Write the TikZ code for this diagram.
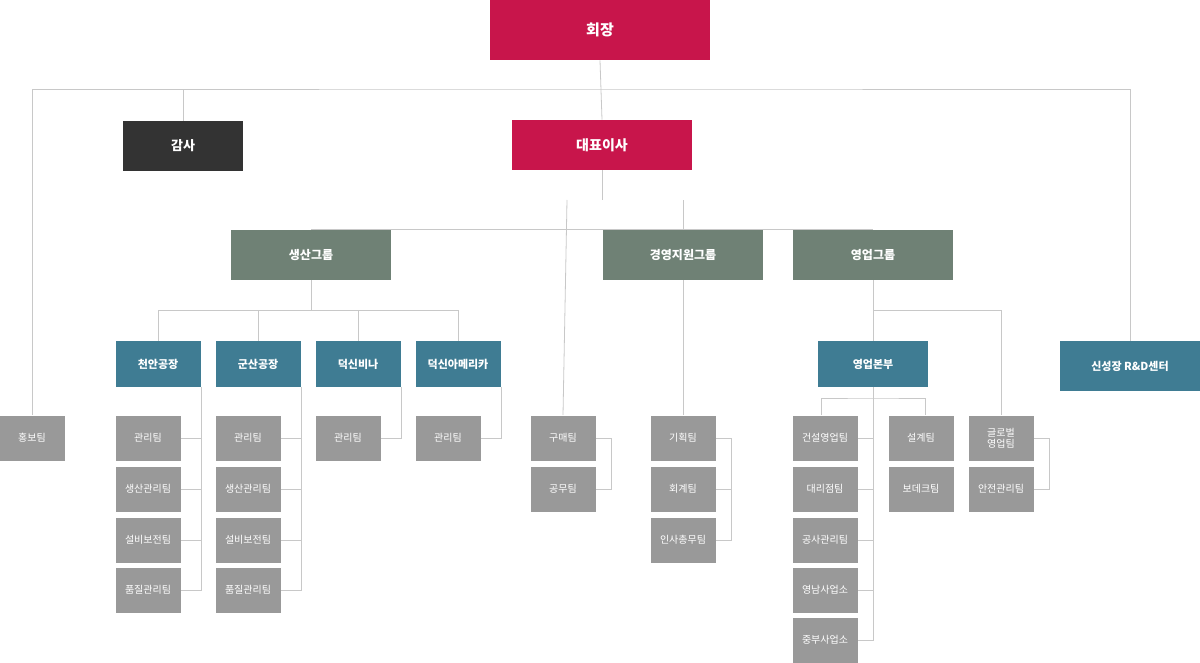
\documentclass[tikz,border=0pt]{standalone}
\usepackage{fontspec}
\setmainfont{Noto Sans CJK KR}
\usetikzlibrary{positioning}
\definecolor{crimson}{HTML}{C8154B}
\definecolor{darkbox}{HTML}{333333}
\definecolor{groupgrey}{HTML}{6F8175}
\definecolor{teal}{HTML}{3F7C93}
\definecolor{teamgrey}{HTML}{999999}
\definecolor{linegrey}{HTML}{C8C8C8}

\begin{document}
\begin{tikzpicture}[
	x = 1pt, y = -1pt,
	line width = 0.8pt,
	every node/.style = {text = white, inner sep = 0pt, align = center},
	chair/.style = {fill = crimson, minimum width = 220pt, minimum height = 60pt, font = \fontsize{15}{17}\selectfont\bfseries},
	ceo/.style = {fill = crimson, minimum width = 180pt, minimum height = 50pt, font = \fontsize{14}{16}\selectfont\bfseries},
	group/.style = {fill = groupgrey, minimum width = 160pt, minimum height = 50pt, font = \fontsize{12}{14}\selectfont\bfseries},
	plant/.style = {fill = teal, minimum width = 85pt, minimum height = 46pt, font = \fontsize{11}{13}\selectfont\bfseries},
	team/.style = {fill = teamgrey, minimum width = 65pt, minimum height = 45pt, font = \fontsize{10}{12}\selectfont},
	conn/.style = {draw = linegrey}
	]

	\useasboundingbox (0,0) rectangle (1200,663);

	% top
	\node[chair] (chair) at (600,30) {회장};
	\node[fill = darkbox, minimum width = 120pt, minimum height = 50pt, font = \fontsize{13}{15}\selectfont\bfseries] (audit) at (183,146) {감사};
	\node[ceo] (ceo) at (602,145) {대표이사};
	\node[plant, minimum width = 140pt, minimum height = 50pt] (rnd) at (1130,366) {신성장 R\&D센터};
	\node[team] (pr) at (32,438) {홍보팀};

	% groups
	\node[group] (prod) at (311,255) {생산그룹};
	\node[group] (mgmt) at (683,255) {경영지원그룹};
	\node[group] (sales) at (873,255) {영업그룹};

	% plants
	\node[plant] (cheonan) at (158,364) {천안공장};
	\node[plant] (gunsan) at (258,364) {군산공장};
	\node[plant] (vina) at (358,364) {덕신비나};
	\node[plant] (america) at (458,364) {덕신아메리카};
	\node[plant, minimum width = 110pt] (hq) at (873,364) {영업본부};

	% teams
	\node[team] (c1) at (148,438) {관리팀};
	\node[team] (c2) at (148,489) {생산관리팀};
	\node[team] (c3) at (148,540) {설비보전팀};
	\node[team] (c4) at (148,590) {품질관리팀};
	\node[team] (g1) at (248,438) {관리팀};
	\node[team] (g2) at (248,489) {생산관리팀};
	\node[team] (g3) at (248,540) {설비보전팀};
	\node[team] (g4) at (248,590) {품질관리팀};
	\node[team] (v1) at (348,438) {관리팀};
	\node[team] (a1) at (448,438) {관리팀};
	\node[team] (buy) at (563,438) {구매팀};
	\node[team] (works) at (563,489) {공무팀};
	\node[team] (m1) at (683,438) {기획팀};
	\node[team] (m2) at (683,489) {회계팀};
	\node[team] (m3) at (683,540) {인사총무팀};
	\node[team] (s1) at (825,438) {건설영업팀};
	\node[team] (s2) at (825,489) {대리점팀};
	\node[team] (s3) at (825,540) {공사관리팀};
	\node[team] (s4) at (825,590) {영남사업소};
	\node[team] (s5) at (825,640) {중부사업소};
	\node[team] (d1) at (921,438) {설계팀};
	\node[team] (d2) at (921,489) {보데크팀};
	\node[team, font = \fontsize{10}{11}\selectfont] (gl) at (1001,438) {글로벌\\영업팀};
	\node[team] (safe) at (1001,489) {안전관리팀};

	% connectors
	\draw[conn] (chair.south) -- (ceo.north);
	\draw[conn] (pr.north) |- (600,89) -| (rnd.north);
	\draw[conn] (audit.north) -- (183,89);
	\draw[conn] (ceo.south) -- (602,200);
	\draw[conn] (prod.north) |- (sales.north);
	\draw[conn] (mgmt.north) -- (683,200);
	\draw[conn] (buy.north) -- (567,200);
	\draw[conn] (prod.south) -- (311,310);
	\draw[conn] (cheonan.north) |- (america.north |- 0,310) -- (america.north);
	\draw[conn] (gunsan.north) -- (258,310);
	\draw[conn] (vina.north) -- (358,310);
	\draw[conn] (mgmt.south) -- (m1.north);
	\draw[conn] (sales.south) -- (hq.north);
	\draw[conn] (873,310) -| (gl.north);
	\draw[conn] (hq.south) -- (873,640) -- (s5.east);
	\foreach \t in {s1,s2,s3,s4}
		\draw[conn] (\t.east) -- (873,0 |- \t.east);
	\draw[conn] (s1.north -| 821,0) |- (873,398) -| (d1.north -| 925,0);
	% brackets
	\draw[conn] (201,387) |- (c4.east);
	\foreach \t in {c1,c2,c3}
		\draw[conn] (\t.east) -- (201,0 |- \t.east);
	\draw[conn] (301,387) |- (g4.east);
	\foreach \t in {g1,g2,g3}
		\draw[conn] (\t.east) -- (301,0 |- \t.east);
	\draw[conn] (401,387) |- (v1.east);
	\draw[conn] (501,387) |- (a1.east);
	\draw[conn] (buy.east) -| (611,489) -- (works.east);
	\draw[conn] (m1.east) -| (731,540) -- (m3.east);
	\draw[conn] (m2.east) -- (731,489);
	\draw[conn] (gl.east) -| (1049,489) -- (safe.east);

\end{tikzpicture}
\end{document}
